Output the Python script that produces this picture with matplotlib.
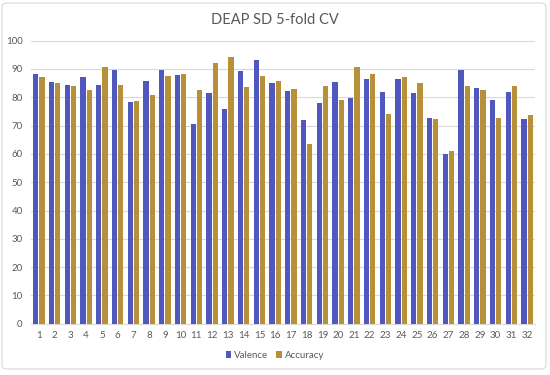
import matplotlib
matplotlib.use("Agg")
import matplotlib.pyplot as plt
from matplotlib.patches import FancyBboxPatch
import numpy as np

subjects = [str(i) for i in range(1, 33)]
valence = [88.3, 85.5, 84.5, 87.3, 84.5, 89.8, 78.3, 85.6, 89.5, 87.8,
           70.6, 81.4, 75.9, 89.3, 93.3, 85.2, 82.2, 72.1, 78.0, 85.5,
           79.6, 86.3, 82.0, 86.5, 81.5, 72.7, 60.0, 89.6, 83.2, 79.2,
           81.9, 72.4]
accuracy = [87.2, 85.0, 83.9, 82.7, 90.7, 84.3, 78.8, 80.9, 87.5, 88.3,
            82.5, 92.2, 94.2, 83.8, 87.4, 85.6, 83.0, 63.5, 83.9, 78.9,
            90.6, 88.2, 74.2, 87.2, 85.0, 72.3, 61.0, 84.1, 82.6, 72.7,
            84.1, 73.9]
yticks = [0, 10, 20, 30, 40, 50, 60, 70, 80, 90, 100]

plt.rcParams['font.family'] = ['Lato', 'DejaVu Sans']

fig = plt.figure(figsize=(5.5, 3.75), dpi=100)
ax = fig.add_axes([31/550, 1-323.7/375, (535-31)/550, (323.7-40.7)/375])

x = np.arange(1, len(subjects) + 1)
w = 0.34
ax.bar(x - 0.2, valence, width=w, color='#5058c0', label='Valence', zorder=3)
ax.bar(x + 0.2, accuracy, width=w, color='#b8903a', label='Accuracy', zorder=3)

ax.set_xlim(0.5, 32.5)
ax.set_ylim(0, 100)
ax.set_yticks(yticks)
ax.set_yticklabels([str(v) for v in yticks])
ax.set_xticks(x)
ax.set_xticklabels(subjects)
ax.tick_params(axis='both', length=0, labelsize=7, labelcolor='#595959')
ax.tick_params(axis='y', pad=6)
ax.tick_params(axis='x', pad=5)
ax.grid(axis='y', color='#d9d9d9', linewidth=0.8, zorder=0)
for s in ['top', 'right', 'left']:
    ax.spines[s].set_visible(False)
ax.spines['bottom'].set_color('#d9d9d9')

fig.text(0.5, 1-20/375, 'DEAP SD 5-fold CV', ha='center', va='center',
         fontsize=10.5, color='#595959')

leg = fig.legend(loc='center', bbox_to_anchor=(0.5, 1-355.5/375), ncol=2,
                 frameon=False, fontsize=7, handlelength=0.6, handleheight=0.6,
                 handletextpad=0.3, columnspacing=0.8)
for t in leg.get_texts():
    t.set_color('#595959')

border = FancyBboxPatch((2/550, 1-369/375), 544/550, 366/375,
                        boxstyle='round,pad=0,rounding_size=0.01',
                        transform=fig.transFigure, fill=False,
                        edgecolor='#d9d9d9', linewidth=0.8)
fig.patches.append(border)

fig.savefig('out.png', dpi=100, facecolor='white')
